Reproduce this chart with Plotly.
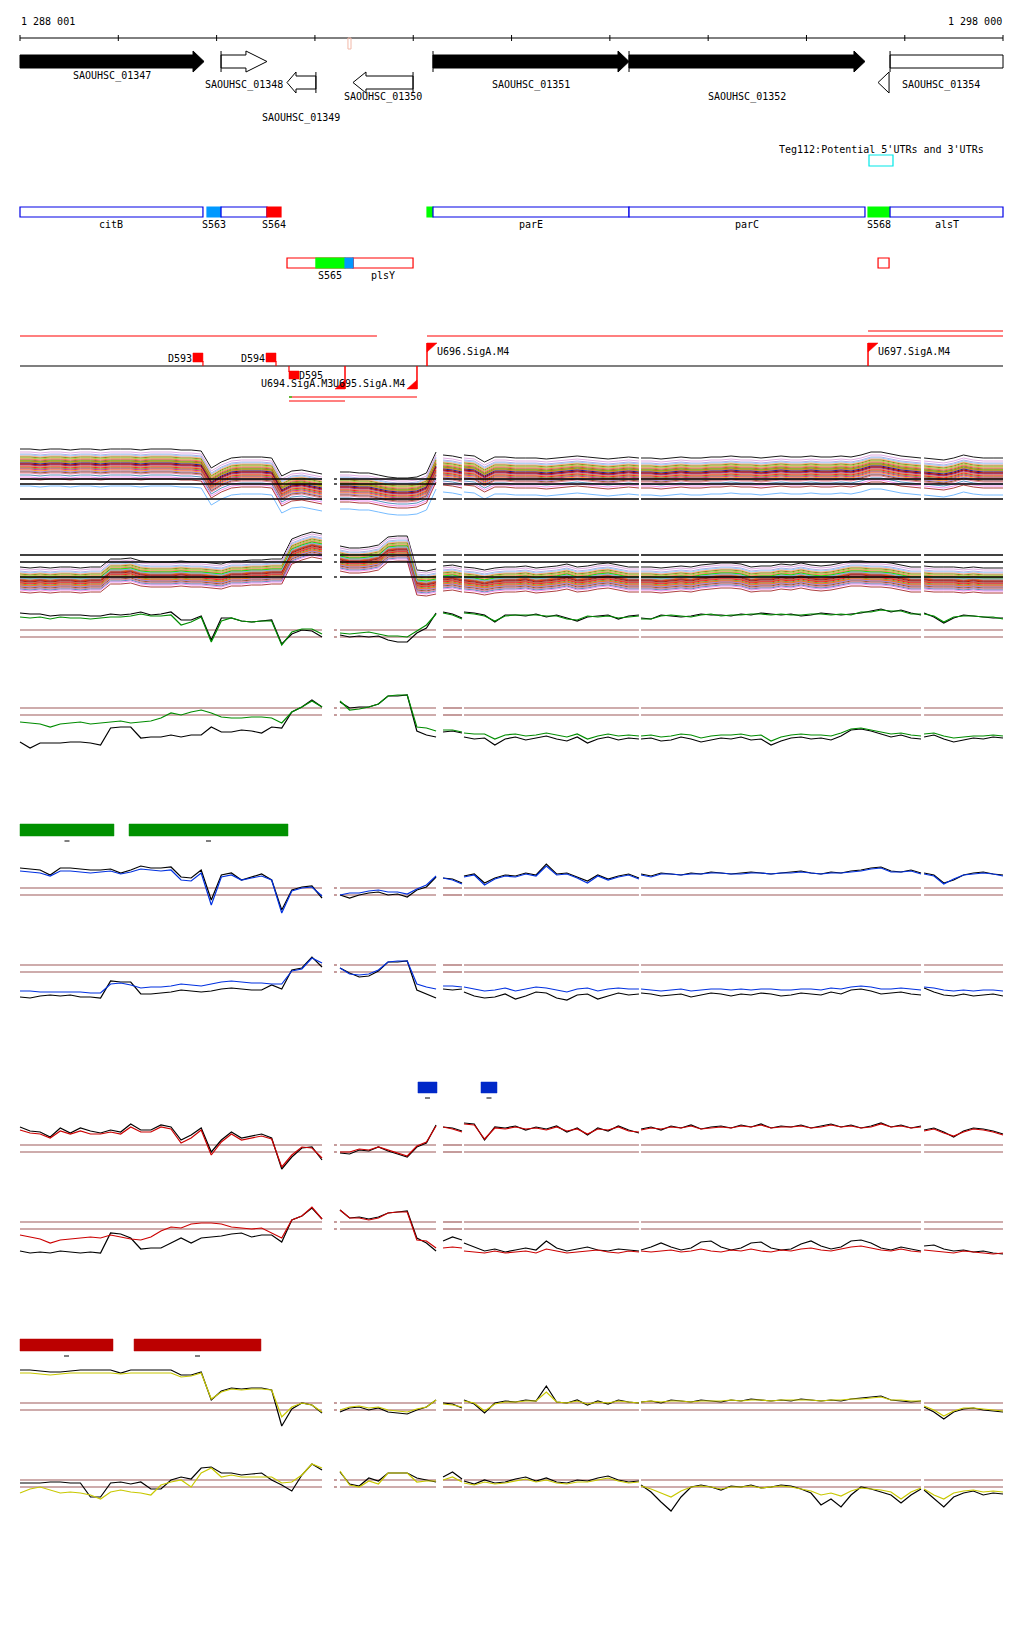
import numpy as np
import plotly.graph_objects as go

# ======================= DATA =======================
VIEW_START = 1288001
VIEW_END = 1298000
SCALE_LABELS = ["1 288 001", "1 298 000"]
TICK_STEP = 1000

GENE_NAMES = ["SAOUHSC_01347", "SAOUHSC_01348", "SAOUHSC_01349", "SAOUHSC_01350",
              "SAOUHSC_01351", "SAOUHSC_01352", "SAOUHSC_01354"]
GENE_START = [1288001, 1290046, 1290717, 1291388, 1292202, 1294196, 1296729]
GENE_END = [1289873, 1290513, 1291011, 1291999, 1294196, 1296596, 1298000]
GENE_STRAND = ["+", "+", "-", "-", "+", "+", "-"]
GENE_FILLED = [True, False, False, False, True, True, False]

FEAT_NAMES = ["citB", "S563", "", "S564", "", "parE", "parC", "S568", "alsT"]
FEAT_START = [1288001, 1289903, 1290046, 1290513, 1292141, 1292202, 1294196, 1296627, 1296851]
FEAT_END = [1289862, 1290046, 1290513, 1290656, 1292202, 1294196, 1296596, 1296851, 1298000]
FEAT_KIND = ["gene", "srna_b", "gene", "srna_r", "srna_g", "gene", "gene", "srna_g", "gene"]

FEAT2_NAMES = ["", "plsY", "S565", "", ""]
FEAT2_START = [1290717, 1291388, 1291011, 1291307, 1296729]
FEAT2_END = [1291388, 1291999, 1291307, 1291388, 1296841]
FEAT2_KIND = ["utr_r", "utr_r", "srna_g", "srna_b", "utr_r"]

UTR_LABEL = "Teg112:Potential 5'UTRs and 3'UTRs"
UTR_START = 1296637
UTR_END = 1296881
MARK_START = 1291337
MARK_END = 1291368

TX_START = [1288001, 1292141, 1296627, 1290737, 1290737]
TX_END = [1291632, 1298000, 1298000, 1292039, 1291307]

TSS_NAMES = ["D593", "D594", "D595", "U694.SigA.M3", "U695.SigA.M4", "U696.SigA.M4", "U697.SigA.M4"]
TSS_POS = [1289862, 1290605, 1290737, 1291307, 1292039, 1292141, 1296627]
TSS_KIND = ["above_left", "above_left", "below_right", "below_left", "below_left",
            "above_right", "above_right"]

GREEN_BAR_START = [1288001, 1289110]
GREEN_BAR_END = [1288957, 1290727]
BLUE_BAR_START = [1292049, 1292690]
BLUE_BAR_END = [1292243, 1292853]
RED_BAR_START = [1288001, 1289161]
RED_BAR_END = [1288947, 1290452]

# measured segments (bp)
SEG_BOUNDS = [(1288001, 1291073), (1291256, 1292233), (1292304, 1292497),
              (1292517, 1294297), (1294318, 1297166), (1297197, 1298000)]
REF_BOUNDS = [(1288001, 1291073), (1291195, 1291225), (1291256, 1292233), (1292304, 1292497),
              (1292517, 1294297), (1294318, 1297166), (1297197, 1298000)]

# ---- bundle panels (signal above lowest reference line) ----
A_BASE = [[33, 33, 32, 33, 33, 32, 33, 33, 32, 33, 33, 33, 32, 33, 33, 33, 32, 32, 31, 14, 20, 24, 25, 25, 25, 24, 6, 11, 12, 10, 8],
          [10, 10, 9, 9, 7, 5, 4, 4, 5, 9, 30],
          [27, 26, 24],
          [27, 26, 20, 25, 25, 24, 24, 24, 23, 24, 25, 26, 25, 24, 23, 24, 25, 24],
          [24, 24, 23, 24, 25, 24, 24, 25, 25, 26, 25, 25, 24, 25, 26, 25, 25, 26, 25, 25, 26, 25, 27, 30, 30, 28, 26, 25, 24],
          [24, 23, 22, 24, 27, 25, 24, 24, 24]]
A_OFFSETS = [17, 14, 12, 11, 10, 9, 8, 7, 6, 5, 5, 4, 3, 2, 2, 1, 0, -1, -2, -3, -4, -5, -6, -7, -9, -11, -13, -20]
A_REFS = [20, 15, 0]

B_BASE = [[-3, -4, -3, -4, -3, -3, -4, -3, -3, 5, 5, 6, 3, 2, 2, 2, 3, 2, 2, 1, 0, 3, 3, 4, 4, 5, 5, 25, 29, 32, 30],
          [18, 16, 16, 17, 19, 27, 28, 28, -6, -7, -5],
          [-2, -1, -3],
          [-3, -4, -6, -4, -3, -3, -2, -4, -3, -2, 0, -3, -2, 0, 1, -1, -3, -3],
          [-3, -3, -4, -3, -2, -3, -1, 0, 1, 1, 0, -3, -2, -2, 0, -1, 1, -1, -2, -1, 1, 3, 3, 2, 2, 1, -1, -3, -3],
          [-2, -3, -3, -3, -4, -3, -4, -4, -4]]
B_OFFSETS = [13, 11, 9, 8, 7, 6, 5, 4, 3, 3, 2, 1, 0, 0, -1, -2, -2, -3, -4, -5, -5, -6, -7, -8, -9, -10, -12, 2]
B_REFS = [22, 15, 0]

# ---- pair panels (signal above lower brown reference line) ----
C_BLACK = [[24, 23, 23, 21, 22, 22, 22, 21, 21, 23, 22, 23, 25, 22, 23, 25, 17, 17, 21, -3, 19, 19, 16, 15, 16, 17, -7, 3, 7, 6, 0],
           [2, 0, 1, 0, 1, -3, -5, -5, 4, 9, 24],
           [25, 23, 19],
           [25, 24, 22, 15, 22, 22, 21, 23, 20, 22, 19, 16, 20, 21, 22, 18, 21, 22],
           [19, 18, 22, 21, 20, 21, 23, 22, 22, 21, 23, 22, 24, 23, 22, 23, 21, 22, 24, 23, 22, 23, 24, 26, 28, 25, 27, 24, 22],
           [24, 20, 14, 19, 22, 21, 20, 19, 19]]
C_GREEN = [[20, 19, 20, 18, 20, 19, 19, 18, 19, 20, 20, 21, 23, 21, 21, 22, 12, 15, 20, -5, 16, 19, 16, 15, 16, 16, -8, 5, 8, 8, 3],
           [4, 3, 4, 5, 3, 1, 1, 0, 6, 12, 23],
           [24, 22, 18],
           [24, 23, 21, 16, 21, 22, 22, 22, 21, 21, 18, 17, 21, 20, 21, 19, 20, 21],
           [18, 18, 21, 22, 21, 20, 22, 23, 21, 22, 22, 23, 23, 22, 23, 22, 22, 23, 23, 22, 23, 22, 25, 25, 27, 26, 26, 23, 23],
           [23, 21, 15, 20, 21, 21, 20, 20, 18]]
D_BLACK = [[-27, -33, -28, -28, -28, -27, -27, -28, -30, -13, -12, -12, -23, -22, -22, -20, -22, -20, -20, -12, -17, -17, -15, -16, -18, -12, -13, 3, 8, 15, 8],
           [13, 7, 8, 8, 11, 19, 19, 20, -16, -20, -22],
           [-17, -16, -18],
           [-22, -24, -23, -30, -24, -22, -25, -23, -21, -24, -26, -22, -28, -24, -22, -25, -23, -24],
           [-24, -23, -26, -25, -22, -24, -27, -25, -23, -24, -22, -25, -24, -30, -26, -23, -22, -24, -23, -25, -21, -15, -14, -16, -19, -22, -20, -23, -24],
           [-22, -20, -24, -27, -25, -23, -24, -22, -23]]
D_GREEN = [[-7, -8, -9, -12, -9, -8, -7, -9, -8, -7, -6, -8, -7, -6, -3, 2, 0, 3, 5, 2, -2, -3, -3, -2, -2, -3, -8, 3, 8, 14, 8],
           [14, 5, 6, 8, 11, 19, 20, 20, -12, -13, -16],
           [-15, -15, -17],
           [-18, -19, -19, -24, -20, -19, -21, -20, -18, -20, -22, -19, -24, -21, -19, -21, -20, -21],
           [-21, -20, -22, -21, -19, -20, -23, -21, -20, -20, -19, -21, -20, -26, -22, -20, -19, -20, -20, -21, -18, -14, -13, -15, -17, -19, -18, -20, -21],
           [-19, -18, -21, -23, -22, -21, -21, -20, -21]]
E_BLACK = [[27, 26, 25, 20, 27, 27, 26, 25, 25, 26, 22, 25, 29, 27, 27, 28, 18, 17, 25, -5, 20, 22, 15, 18, 21, 15, -15, 5, 8, 9, -3],
           [0, -3, 0, 2, 3, 0, 1, -2, 5, 8, 18],
           [17, 16, 12],
           [19, 21, 12, 17, 20, 19, 22, 20, 31, 21, 22, 18, 14, 20, 16, 19, 21, 17],
           [21, 19, 22, 21, 20, 22, 21, 23, 22, 21, 22, 23, 22, 21, 22, 23, 24, 22, 21, 23, 22, 24, 25, 27, 28, 24, 23, 25, 22],
           [22, 20, 12, 15, 20, 22, 23, 21, 20]]
E_BLUE = [[24, 23, 22, 19, 24, 24, 23, 22, 23, 24, 21, 23, 26, 25, 24, 25, 15, 14, 22, -10, 18, 20, 15, 17, 19, 15, -18, 4, 7, 8, -1],
          [0, 2, 2, 4, 5, 3, 3, 1, 6, 10, 19],
          [17, 15, 11],
          [18, 20, 10, 16, 19, 18, 21, 19, 29, 20, 21, 17, 12, 19, 15, 18, 20, 16],
          [20, 18, 21, 21, 20, 21, 21, 22, 22, 21, 21, 22, 22, 21, 22, 22, 23, 22, 21, 22, 22, 23, 24, 26, 27, 23, 23, 24, 21],
          [21, 19, 11, 16, 20, 21, 22, 21, 19]]
F_BLACK = [[-25, -26, -24, -23, -24, -23, -25, -25, -26, -9, -10, -10, -22, -22, -21, -20, -18, -19, -20, -19, -17, -16, -17, -18, -18, -13, -17, 2, 4, 15, 5],
           [4, -1, -5, -4, 1, 10, 10, 11, -18, -22, -26],
           [-17, -18, -17],
           [-20, -24, -26, -25, -22, -27, -24, -20, -21, -26, -28, -23, -22, -27, -24, -21, -23, -22],
           [-21, -22, -24, -23, -22, -25, -23, -21, -22, -24, -22, -23, -21, -22, -24, -23, -21, -22, -23, -20, -22, -18, -17, -19, -22, -21, -20, -22, -23],
           [-16, -20, -23, -24, -22, -24, -23, -22, -24]]
F_BLUE = [[-19, -19, -20, -20, -20, -20, -20, -21, -21, -12, -11, -13, -16, -15, -15, -14, -12, -13, -14, -12, -10, -9, -10, -11, -11, -12, -12, 1, 3, 14, 9],
          [4, -2, -3, -2, 2, 10, 11, 11, -12, -15, -17],
          [-14, -14, -15],
          [-15, -17, -19, -18, -16, -19, -17, -15, -16, -18, -20, -17, -16, -19, -17, -16, -17, -17],
          [-17, -18, -19, -18, -17, -19, -18, -17, -17, -18, -17, -18, -17, -17, -18, -18, -17, -17, -18, -16, -17, -15, -14, -15, -17, -17, -16, -17, -18],
          [-15, -16, -18, -19, -18, -19, -18, -18, -19]]
G_BLACK = [[25, 21, 20, 15, 24, 19, 24, 21, 19, 22, 20, 28, 22, 22, 27, 25, 12, 17, 24, 0, 12, 20, 14, 16, 18, 14, -17, -5, 4, 5, -8],
           [-1, -2, 2, 1, 5, 1, -2, -5, 5, 9, 27],
           [25, 24, 21],
           [29, 28, 12, 25, 24, 26, 22, 25, 23, 26, 20, 24, 17, 24, 21, 26, 22, 19],
           [23, 25, 22, 26, 24, 27, 23, 25, 26, 24, 27, 25, 28, 24, 26, 25, 27, 24, 26, 28, 25, 27, 24, 26, 29, 25, 27, 24, 26],
           [22, 24, 20, 15, 21, 24, 23, 21, 18]]
G_RED = [[22, 19, 18, 14, 21, 18, 21, 18, 18, 20, 18, 25, 20, 20, 25, 23, 9, 14, 22, -3, 10, 18, 12, 14, 16, 13, -15, -3, 5, 4, -6],
         [0, 0, 3, 2, 5, 2, -1, -4, 6, 10, 26],
         [25, 23, 20],
         [28, 27, 13, 24, 23, 25, 23, 24, 22, 25, 21, 23, 18, 23, 22, 25, 21, 20],
         [22, 24, 23, 25, 24, 26, 23, 24, 25, 24, 26, 25, 27, 24, 25, 25, 26, 24, 25, 27, 25, 26, 24, 25, 28, 25, 26, 24, 25],
         [21, 23, 19, 16, 20, 23, 22, 20, 17]]
H_BLACK = [[-22, -24, -23, -24, -22, -23, -24, -23, -24, -4, -5, -9, -20, -19, -19, -14, -9, -14, -9, -8, -7, -5, -4, -8, -6, -6, -13, 9, 13, 21, 10],
           [19, 11, 12, 10, 12, 16, 17, 18, -9, -14, -22],
           [-12, -8, -11],
           [-14, -18, -22, -20, -23, -21, -19, -21, -12, -19, -22, -20, -18, -21, -22, -20, -21, -22],
           [-21, -18, -14, -18, -21, -19, -13, -12, -18, -21, -19, -14, -13, -19, -21, -20, -15, -12, -17, -20, -18, -12, -11, -14, -19, -21, -18, -20, -22],
           [-17, -16, -20, -22, -21, -23, -22, -24, -25]]
H_RED = [[-6, -8, -10, -14, -11, -10, -9, -8, -9, -6, -8, -10, -11, -8, -2, 2, 1, 5, 6, 6, 5, 2, 1, 0, 1, -4, -9, 9, 13, 22, 10],
         [19, 11, 11, 9, 11, 16, 17, 17, -11, -12, -19],
         [-19, -18, -19],
         [-22, -23, -24, -22, -24, -23, -22, -24, -20, -22, -24, -23, -22, -21, -23, -24, -22, -23],
         [-22, -23, -22, -21, -23, -22, -20, -22, -23, -21, -22, -20, -22, -23, -21, -22, -20, -19, -21, -22, -20, -18, -17, -19, -21, -22, -20, -22, -23],
         [-21, -22, -23, -24, -22, -23, -24, -25, -24]]
I_BLACK = [[40, 40, 39, 38, 38, 39, 40, 40, 40, 40, 37, 40, 40, 40, 40, 40, 35, 35, 38, 10, 19, 22, 21, 22, 22, 20, -16, 1, 7, 5, -3],
           [-2, 2, 3, 0, 2, -2, -3, -4, 0, 3, 10],
           [7, 6, 2],
           [10, 6, -3, 7, 9, 8, 10, 9, 24, 8, 7, 10, 5, 9, 6, 10, 8, 7],
           [8, 9, 7, 10, 9, 8, 10, 9, 8, 10, 9, 11, 10, 9, 10, 9, 11, 10, 9, 10, 9, 11, 12, 13, 14, 10, 9, 8, 9],
           [3, -2, -9, -2, 1, 2, 0, -1, -2]]
I_YELLOW = [[37, 37, 36, 35, 36, 37, 37, 37, 37, 37, 36, 37, 37, 37, 37, 37, 33, 34, 37, 11, 18, 21, 20, 21, 21, 20, -7, 3, 7, 5, -2],
            [0, 3, 4, 2, 3, 0, -1, -2, 1, 3, 10],
            [6, 5, 3],
            [9, 7, -1, 6, 8, 8, 9, 9, 18, 8, 7, 9, 6, 8, 7, 9, 8, 7],
            [8, 9, 8, 9, 9, 8, 9, 9, 9, 10, 9, 10, 10, 9, 10, 10, 10, 10, 9, 10, 10, 11, 11, 12, 13, 10, 10, 9, 9],
            [4, 0, -6, -1, 2, 2, 1, 0, -1]]
J_BLACK = [[4, 4, 4, 5, 5, 4, 4, -10, -10, 4, 5, 3, 5, -2, -2, 7, 10, 8, 19, 20, 14, 14, 12, 13, 14, 7, 2, -4, 12, 23, 17],
           [15, 3, 1, 9, 6, 14, 14, 14, 9, 7, 5],
           [10, 15, 8],
           [6, 3, 7, 4, 5, 8, 10, 6, 9, 5, 4, 7, 6, 9, 11, 7, 5, 6],
           [2, -5, -15, -24, -10, 0, 2, 0, -3, 1, 0, 2, -1, 0, 2, 1, -2, -6, -18, -12, -20, -8, 0, -2, -5, -8, -16, -8, -2],
           [-3, -12, -20, -10, -6, -4, -8, -6, -7]]
J_YELLOW = [[-6, -2, 0, -3, -6, -5, -6, -8, -12, -5, -3, -5, -6, -8, 2, 5, 7, 0, 14, 19, 10, 12, 10, 10, 10, 10, 4, 5, 12, 23, 19],
            [16, 2, 0, 6, 3, 14, 14, 14, 5, 6, 6],
            [7, 10, 5],
            [4, 2, 5, 3, 4, 6, 8, 5, 7, 4, 3, 5, 5, 7, 9, 6, 4, 5],
            [1, -2, -6, -10, -4, 0, 1, 0, -2, 0, 0, 1, -1, 0, 1, 0, -2, -4, -8, -6, -9, -4, -1, -2, -3, -5, -12, -5, -1],
            [-2, -8, -12, -6, -4, -3, -5, -4, -5]]
PAIR_REFS = [7, 0]

# ======================= LAYOUT / STYLE =======================
W, H = 1024, 1640
PX_LEFT, PX_RIGHT = 20, 1003
BPPX = (VIEW_END - VIEW_START) / (PX_RIGHT - PX_LEFT)
FONT = dict(family="DejaVu Sans Mono", size=10, color="black")

GENE_ROW = [1, 1, 2, 2, 1, 1, 3]
GENE_LABEL_Y = [76, 85, 118, 97, 85, 97, 85]
GENE_HEAD_PX = [11, 21, 9, 13, 11, 11, 11]
GENE_BAR = [False, True, True, True, True, True, True]
ROW_CY = {1: 61.5, 2: 82.5}
BODY_HALF, HEAD_HALF = 6.5, 10.5

BUNDLE_COLORS = ['#000000', '#dda0dd', '#b0a0e0', '#87cefa', '#ffa07a', '#808000', '#9acd32',
                 '#ff6347', '#a0522d', '#00ff00', '#b8860b', '#d2691e', '#000080', '#ff4500',
                 '#8b0000', '#800080', '#cd853f', '#ff0000', '#6b8e23', '#c71585', '#ff8c00',
                 '#9370db', '#8b4513', '#db7093', '#4682b4', '#ee82ee', '#a52a2a', '#66b3ff']

PANEL_BASE = {"A": 499, "B": 577, "C": 637, "D": 715, "E": 895, "F": 972,
              "G": 1152, "H": 1229, "I": 1410, "J": 1487}
BROWN = "#9e5a5a"

fig = go.Figure()


def bpw(px):
    return px * BPPX


def add_poly(xs, ys, fill, line="black", width=1, yref="y"):
    fig.add_trace(go.Scatter(x=xs, y=ys, mode="lines", fill="toself", fillcolor=fill,
                             line=dict(color=line, width=width), hoverinfo="skip", yaxis=yref))


def add_line(xs, ys, color, width=1, yref="y"):
    fig.add_trace(go.Scatter(x=xs, y=ys, mode="lines", line=dict(color=color, width=width),
                             hoverinfo="skip", yaxis=yref, connectgaps=False))


def add_text(x, y, text, anchor="center", color="black"):
    fig.add_annotation(x=x, y=y, xref="x", yref="y", text=text, showarrow=False,
                       xanchor=anchor, yanchor="middle", font=dict(FONT, color=color), borderpad=0)


def rect(x0, x1, y0, y1, line, fill, width=1.2):
    fig.add_shape(type="rect", xref="x", yref="y", x0=x0, x1=x1, y0=y0, y1=y1,
                  line=dict(color=line, width=width), fillcolor=fill)


# ---- scale ----
ticks = list(range(VIEW_START, VIEW_END, TICK_STEP)) + [VIEW_END]
tx, ty = [VIEW_START, VIEW_END, None], [38, 38, None]
for t in ticks:
    tx += [t, t, None]
    ty += [35, 41, None]
add_line(tx, ty, "black", 1)
add_text(VIEW_START, 21, SCALE_LABELS[0], "left")
add_text(VIEW_END, 21, SCALE_LABELS[1], "right")
rect(MARK_START, MARK_END, 38, 49, "#f2b8a8", "rgba(0,0,0,0)", 1)

# ---- genes ----
for name, s, e, st, filled, row, ly, hp, bar in zip(GENE_NAMES, GENE_START, GENE_END, GENE_STRAND,
                                                    GENE_FILLED, GENE_ROW, GENE_LABEL_Y, GENE_HEAD_PX, GENE_BAR):
    fill = "black" if filled else "white"
    h = bpw(hp)
    if row == 3:  # reverse gene whose head was pushed to the second row
        c1, c2 = ROW_CY[1], ROW_CY[2]
        bs = s + bpw(hp + 1)
        add_poly([bs, e, e, bs, bs], [c1 - BODY_HALF, c1 - BODY_HALF, c1 + BODY_HALF, c1 + BODY_HALF, c1 - BODY_HALF], fill)
        add_line([bs, bs], [c1 - HEAD_HALF, c1 + HEAD_HALF], "black", 1)
        add_poly([s + h, s, s + h, s + h], [c2 - HEAD_HALF, c2, c2 + HEAD_HALF, c2 - HEAD_HALF], fill)
    else:
        c = ROW_CY[row]
        yb0, yb1, yh0, yh1 = c - BODY_HALF, c + BODY_HALF, c - HEAD_HALF, c + HEAD_HALF
        if st == "+":
            xs = [s, e - h, e - h, e, e - h, e - h, s, s]
            barx = s
        else:
            xs = [e, s + h, s + h, s, s + h, s + h, e, e]
            barx = e
        ys = [yb0, yb0, yh0, c, yh1, yb1, yb1, yb0]
        add_poly(xs, ys, fill)
        if bar:
            add_line([barx, barx], [yh0, yh1], "black", 1)
    add_text((s + e) / 2, ly, name)

# ---- UTR track ----
add_text((UTR_START + UTR_END) / 2, 149, UTR_LABEL)
rect(UTR_START, UTR_END, 155, 166, "#00e8e8", "rgba(0,0,0,0)", 1.2)

# ---- feature rows ----
KIND_STYLE = {"gene": ("#0000e6", "white"), "srna_b": ("#0099ff", "#0099ff"),
              "srna_r": ("#ff0000", "#ff0000"), "srna_g": ("#00ff00", "#00ff00"),
              "utr_r": ("#ff0000", "rgba(0,0,0,0)")}
for name, s, e, k in zip(FEAT_NAMES, FEAT_START, FEAT_END, FEAT_KIND):
    lc, fc = KIND_STYLE[k]
    rect(s, e, 207, 217, lc, fc)
    if name:
        add_text((s + e) / 2, 224, name)
for name, s, e, k in zip(FEAT2_NAMES, FEAT2_START, FEAT2_END, FEAT2_KIND):
    lc, fc = KIND_STYLE[k]
    rect(s, e, 258, 268, lc, fc)
    if name:
        add_text((s + e) / 2, 275, name)

# ---- transcripts / TSS ----
TX_Y = [336, 336, 331, 397, 401]
for s, e, y in zip(TX_START, TX_END, TX_Y):
    add_line([s, e], [y, y], "#ff0000", 1.2)
add_line([TX_START[3], TX_START[3] + bpw(3)], [397, 397], "#00dd00", 1.2)
add_line([VIEW_START, VIEW_END], [366, 366], "black", 1.2)

w10 = bpw(10)
for name, p, k in zip(TSS_NAMES, TSS_POS, TSS_KIND):
    if k == "above_left":
        add_line([p, p], [366, 361], "#ff0000", 1.2)
        add_poly([p - w10, p, p, p - w10, p - w10], [353, 353, 362, 362, 353], "#ff0000", "#ff0000", 0.5)
        add_text(p - w10, 358, name, "right")
    elif k == "below_right":
        add_line([p, p], [366, 372], "#ff0000", 1.2)
        add_poly([p, p + w10, p + w10, p, p], [371, 371, 379, 379, 371], "#ff0000", "#ff0000", 0.5)
        add_text(p + bpw(9), 375, name, "left")
    elif k == "below_left":
        add_line([p, p], [366, 389], "#ff0000", 1.5)
        add_poly([p - w10, p, p, p - w10], [389, 389, 380, 389], "#ff0000", "#ff0000", 0.5)
        add_text(p - bpw(11), 383, name, "right")
    else:
        add_line([p, p], [366, 343], "#ff0000", 1.5)
        add_poly([p, p + w10, p, p], [343, 343, 352, 343], "#ff0000", "#ff0000", 0.5)
        add_text(p + bpw(9), 351, name, "left")

# ---- region bars ----
for starts, ends, color, y0, y1, yd in [(GREEN_BAR_START, GREEN_BAR_END, "#009100", 824, 836, 841),
                                        (BLUE_BAR_START, BLUE_BAR_END, "#0028c8", 1082, 1093, 1098),
                                        (RED_BAR_START, RED_BAR_END, "#bb0000", 1339, 1351, 1356)]:
    for s, e in zip(starts, ends):
        rect(s, e, y0, y1, color, color, 0.5)
        m = (s + e) / 2
        add_line([m - bpw(2.5), m + bpw(2.5)], [yd, yd], "black", 1)

# ---- data panels ----
layout_axes = {}
panel_axis = {}
for i, (key, base) in enumerate(PANEL_BASE.items()):
    ax = i + 2
    panel_axis[key] = f"y{ax}"
    layout_axes[f"yaxis{ax}"] = dict(domain=[(H - (base + 60)) / H, (H - (base - 80)) / H],
                                     range=[-60, 80], visible=False, anchor="x", fixedrange=True)


def seg_xy(parts):
    xs, ys = [], []
    for (s, e), vals in zip(SEG_BOUNDS, parts):
        xs += list(np.linspace(s, e, len(vals))) + [None]
        ys += list(vals) + [None]
    return xs, ys


def ref_lines(levels, color, yref, width=1):
    for v in levels:
        xs, ys = [], []
        for s, e in REF_BOUNDS:
            xs += [s, e, None]
            ys += [v, v, None]
        add_line(xs, ys, color, width, yref)


for key, base, offsets in [("A", A_BASE, A_OFFSETS), ("B", B_BASE, B_OFFSETS)]:
    yref = panel_axis[key]
    for off, col in zip(offsets, BUNDLE_COLORS):
        xs, ys = seg_xy([[v + off for v in seg] for seg in base])
        add_line(xs, ys, col, 0.9, yref)
    ref_lines(A_REFS if key == "A" else B_REFS, "black", yref, 1.3)

for key, blk, col_data, col in [("C", C_BLACK, C_GREEN, "#008c00"), ("D", D_BLACK, D_GREEN, "#008c00"),
                                ("E", E_BLACK, E_BLUE, "#0030e0"), ("F", F_BLACK, F_BLUE, "#0030e0"),
                                ("G", G_BLACK, G_RED, "#cc0000"), ("H", H_BLACK, H_RED, "#cc0000"),
                                ("I", I_BLACK, I_YELLOW, "#c8c800"), ("J", J_BLACK, J_YELLOW, "#c8c800")]:
    yref = panel_axis[key]
    ref_lines(PAIR_REFS, BROWN, yref, 1.2)
    xs, ys = seg_xy(blk)
    add_line(xs, ys, "black", 1.2, yref)
    xs, ys = seg_xy(col_data)
    add_line(xs, ys, col, 1.2, yref)

fig.update_layout(
    width=W, height=H, margin=dict(l=0, r=0, t=0, b=0),
    paper_bgcolor="white", plot_bgcolor="rgba(0,0,0,0)", showlegend=False,
    xaxis=dict(range=[VIEW_START - PX_LEFT * BPPX, VIEW_START + (W - PX_LEFT) * BPPX],
               visible=False, domain=[0, 1], fixedrange=True),
    yaxis=dict(range=[H, 0], visible=False, domain=[0, 1], fixedrange=True),
    **layout_axes,
)
fig.write_html("out.html", config={"displayModeBar": False, "staticPlot": True},
               post_script="document.body.style.margin='0px';")
